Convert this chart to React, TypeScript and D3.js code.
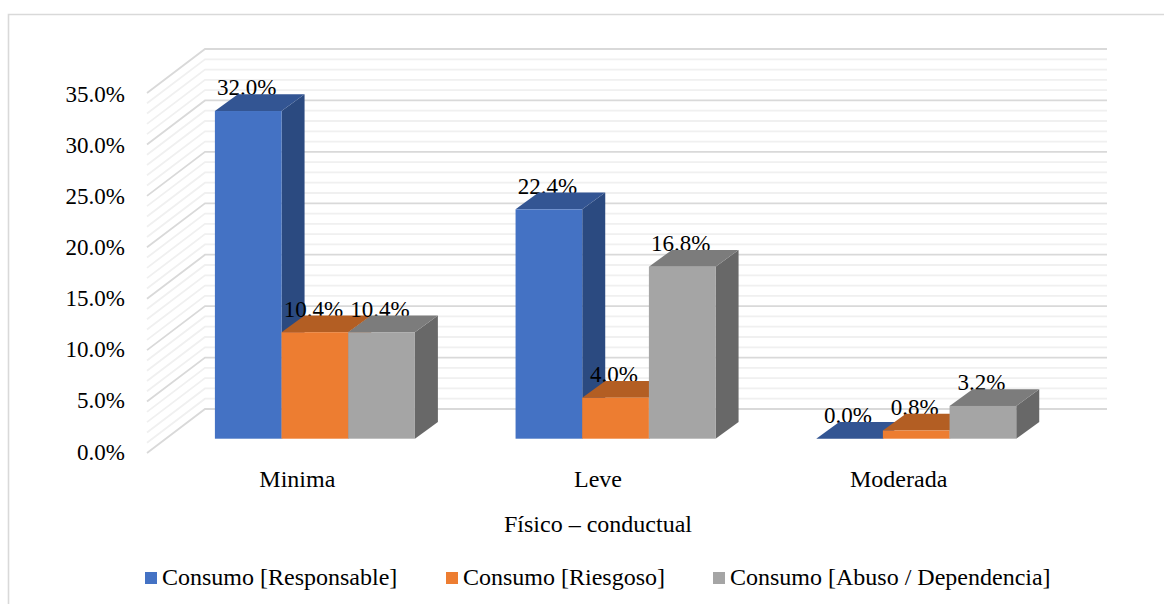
import React from "react";
import * as d3 from "d3";

const categories = ["Minima", "Leve", "Moderada"];
const seriesNames = ["Consumo [Responsable]", "Consumo [Riesgoso]", "Consumo [Abuso / Dependencia]"];
const responsable = [32.0, 22.4, 0.0];
const riesgoso = [10.4, 4.0, 0.8];
const abuso = [10.4, 16.8, 3.2];
const seriesValues = [responsable, riesgoso, abuso];
const frontColors = ["#4472C4", "#ED7D31", "#A5A5A5"];
const topColors = ["#335593", "#B35E23", "#7C7C7C"];
const sideColors = ["#2B4A80", "#A04F1C", "#686868"];
const majorTicks = [0, 5, 10, 15, 20, 25, 30, 35];
const minorTicks = d3.range(0, 36).filter((t) => t % 5 !== 0);
const axisTitle = "Físico – conductual";

const FONT = "'Liberation Serif', 'Times New Roman', serif";
const FS_VALUE = 23;
const FS_TEXT = 24;

// Wall and floor geometry of the pseudo-3D plot
const WALL_DX = 58;
const WALL_DY = 44;
const BAR_DX = 23;
const BAR_DY = 16.7;
const FLOOR_SHIFT = 17.9;

const yFront = d3.scaleLinear().domain([0, 35]).range([453, 93]);
const yBar = d3.scaleLinear().domain([0, 35]).range([438.7, 80.3]);
const xCat = d3.scaleBand<string>().domain(categories).range([147, 1049]);
const xSeries = d3
  .scaleBand<string>()
  .domain(seriesNames)
  .range([50 + FLOOR_SHIFT, 250 + FLOOR_SHIFT]);
const pct = (v: number) => d3.format(".1f")(v) + "%";
const poly = (pts: number[][]) => pts.map((p) => p.join(",")).join(" ");

const legendX = [145, 446, 713];

export default function App() {
  const gridLine = (t: number, major: boolean) => {
    const y = yFront(t);
    return (
      <polyline
        key={t}
        points={poly([
          [147, y],
          [147 + WALL_DX, y - WALL_DY],
          [1107, y - WALL_DY],
        ])}
        fill="none"
        stroke={major ? "#D9D9D9" : "#F0F0F0"}
        strokeWidth={1.8}
      />
    );
  };

  const bars = categories.flatMap((c, ci) =>
    seriesNames.map((s, si) => {
      const v = seriesValues[si][ci];
      const x0 = (xCat(c) as number) + (xSeries(s) as number);
      const w = xSeries.bandwidth();
      const base = yBar(0);
      const top = yBar(v);
      return (
        <g key={c + s}>
          <text
            x={x0 + w / 2 - 1.5}
            y={top - BAR_DY + 1}
            textAnchor="middle"
            fontFamily={FONT}
            fontSize={FS_VALUE}
            fill="#000"
          >
            {pct(v)}
          </text>
          <polygon
            points={poly([
              [x0 + w, top],
              [x0 + w + BAR_DX, top - BAR_DY],
              [x0 + w + BAR_DX, base - BAR_DY],
              [x0 + w, base],
            ])}
            fill={sideColors[si]}
          />
          <polygon
            points={poly([
              [x0, top],
              [x0 + BAR_DX, top - BAR_DY],
              [x0 + w + BAR_DX, top - BAR_DY],
              [x0 + w, top],
            ])}
            fill={topColors[si]}
          />
          <rect x={x0} y={top} width={w} height={base - top} fill={frontColors[si]} />
        </g>
      );
    })
  );

  return (
    <svg
      width={1164}
      height={604}
      viewBox="0 0 1164 604"
      style={{ position: "absolute", left: 0, top: 0, background: "#fff" }}
    >
      <polyline points="8.5,604 8.5,14.5 1164,14.5" fill="none" stroke="#D9D9D9" strokeWidth={1.6} />
      {minorTicks.map((t) => gridLine(t, false))}
      {majorTicks.map((t) => gridLine(t, true))}
      {majorTicks.map((t) => (
        <text
          key={t}
          x={125}
          y={yFront(t) + 8.5 - 2 * (1 - t / 35)}
          textAnchor="end"
          fontFamily={FONT}
          fontSize={FS_VALUE}
          fill="#000"
        >
          {pct(t)}
        </text>
      ))}
      {bars}
      {categories.map((c) => (
        <text
          key={c}
          x={(xCat(c) as number) + xCat.bandwidth() / 2}
          y={487}
          textAnchor="middle"
          fontFamily={FONT}
          fontSize={FS_TEXT}
          fill="#000"
        >
          {c}
        </text>
      ))}
      <text x={598} y={532} textAnchor="middle" fontFamily={FONT} fontSize={FS_TEXT} fill="#000">
        {axisTitle}
      </text>
      {seriesNames.map((s, i) => (
        <g key={s}>
          <rect x={legendX[i]} y={572} width={12} height={12} fill={frontColors[i]} />
          <text x={legendX[i] + 17} y={585} fontFamily={FONT} fontSize={FS_TEXT} fill="#000">
            {s}
          </text>
        </g>
      ))}
    </svg>
  );
}
